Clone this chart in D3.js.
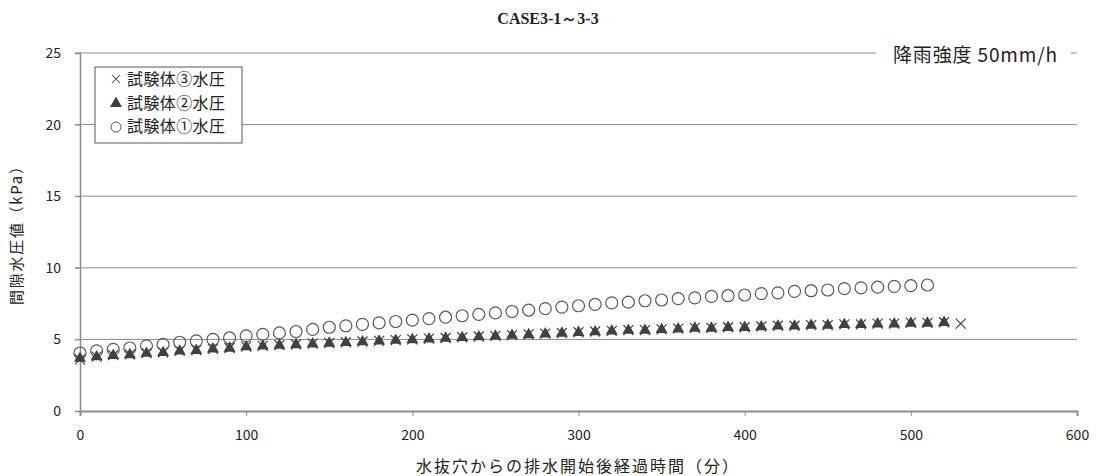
<!DOCTYPE html>
<html>
<head>
<meta charset="utf-8">
<script src="https://cdn.jsdelivr.net/npm/d3@7"></script>
<style>
  body { margin: 0; background: #fff; }
  text { font-family: "Noto Sans CJK JP", "Noto Sans", sans-serif; fill: #222; }
</style>
</head>
<body>
<script>
// elapsed time (min) and pore water pressure (kPa) per specimen
var time1 = d3.range(0, 511, 10);
var time2 = d3.range(0, 521, 10);
var time3 = d3.range(0, 531, 10);

var spec1 = [4.05, 4.2, 4.3, 4.4, 4.55, 4.65, 4.8, 4.9, 5.0, 5.1,
             5.25, 5.35, 5.45, 5.55, 5.7, 5.85, 5.95, 6.05, 6.15, 6.25,
             6.35, 6.45, 6.55, 6.65, 6.75, 6.85, 6.95, 7.05, 7.15, 7.25,
             7.35, 7.45, 7.55, 7.6, 7.7, 7.75, 7.85, 7.9, 8.0, 8.05,
             8.1, 8.2, 8.25, 8.35, 8.4, 8.45, 8.55, 8.6, 8.65, 8.7,
             8.75, 8.8];
var spec2 = [3.75, 3.85, 3.95, 4.0, 4.1, 4.15, 4.25, 4.3, 4.4, 4.45,
             4.55, 4.6, 4.65, 4.7, 4.75, 4.8, 4.85, 4.9, 4.95, 5.0,
             5.05, 5.1, 5.15, 5.2, 5.25, 5.3, 5.35, 5.4, 5.45, 5.5,
             5.55, 5.6, 5.65, 5.7, 5.7, 5.75, 5.8, 5.85, 5.85, 5.9,
             5.9, 5.95, 6.0, 6.0, 6.05, 6.05, 6.1, 6.1, 6.15, 6.15,
             6.2, 6.2, 6.25];
var spec3 = [3.6, 3.8, 3.9, 3.95, 4.05, 4.1, 4.2, 4.25, 4.35, 4.4,
             4.5, 4.55, 4.6, 4.65, 4.7, 4.75, 4.8, 4.85, 4.9, 4.95,
             5.0, 5.05, 5.1, 5.15, 5.2, 5.25, 5.3, 5.35, 5.4, 5.45,
             5.5, 5.55, 5.6, 5.65, 5.65, 5.7, 5.75, 5.8, 5.8, 5.85,
             5.85, 5.9, 5.95, 5.95, 6.0, 6.0, 6.05, 6.05, 6.1, 6.1,
             6.15, 6.15, 6.2, 6.1];

var xTicks = [0, 100, 200, 300, 400, 500, 600];
var yTicks = [0, 5, 10, 15, 20, 25];
var legendLabels = ["試験体③水圧", "試験体②水圧", "試験体①水圧"];

var width = 1097, height = 476;
var margin = {top: 53, right: 20, bottom: 65, left: 80};

var svg = d3.select("body").append("svg")
    .attr("width", width)
    .attr("height", height);

var x = d3.scaleLinear().domain([0, 600]).range([margin.left, width - margin.right]);
var y = d3.scaleLinear().domain([0, 25]).range([height - margin.bottom, margin.top]);

// gridlines
svg.append("g")
  .selectAll("line")
  .data(yTicks.slice(1))
  .enter().append("line")
    .attr("x1", x(0) - 5).attr("x2", x(600))
    .attr("y1", d => y(d)).attr("y2", d => y(d))
    .attr("stroke", "#8c8c8c").attr("stroke-width", 1);

// y axis
var yAxis = svg.append("g")
    .attr("transform", "translate(" + x(0) + ",0)")
    .call(d3.axisLeft(y).tickValues(yTicks).tickSize(5).tickPadding(14));
yAxis.select(".domain").attr("stroke", "#8c8c8c").attr("stroke-width", 1.5);
yAxis.selectAll(".tick line").attr("stroke", "#8c8c8c");
yAxis.selectAll("text").style("font-size", "14px").attr("fill", "#222");

// x axis
var xAxis = svg.append("g")
    .attr("transform", "translate(0," + y(0) + ")")
    .call(d3.axisBottom(x).tickValues(xTicks).tickSize(5).tickPadding(14));
xAxis.select(".domain").attr("stroke", "#8c8c8c").attr("stroke-width", 2);
xAxis.selectAll(".tick line").attr("stroke", "#8c8c8c");
xAxis.selectAll("text").style("font-size", "14px").attr("fill", "#222");

// title
svg.append("text")
    .attr("x", 548).attr("y", 24)
    .attr("text-anchor", "middle")
    .style("font-family", "'Liberation Serif', 'Times New Roman', serif")
    .style("font-weight", "bold")
    .style("font-size", "16px")
    .text("CASE3-1～3-3");

// rainfall label
svg.append("rect")
    .attr("x", 876).attr("y", 40).attr("width", 195).attr("height", 28)
    .attr("fill", "#fff");
svg.append("text")
    .attr("x", 893).attr("y", 62)
    .attr("textLength", 164).attr("lengthAdjust", "spacing")
    .style("font-size", "19px")
    .text("降雨強度 50mm/h");

// axis titles
svg.append("text")
    .attr("transform", "translate(22," + ((y(0) + y(25)) / 2) + ") rotate(-90)")
    .attr("text-anchor", "middle")
    .attr("textLength", 146).attr("lengthAdjust", "spacing")
    .style("font-size", "15px")
    .text("間隙水圧値（kPa）");
svg.append("text")
    .attr("x", 578).attr("y", 472)
    .attr("text-anchor", "middle")
    .style("font-size", "16px")
    .style("letter-spacing", "2px")
    .text("水抜穴からの排水開始後経過時間（分）");

// markers
var crossPath = "M-5,-5L5,5M-5,5L5,-5";
var triPath = d3.symbol().type(d3.symbolTriangle).size(62)();

svg.append("g").selectAll("path")
  .data(time3.map((t, i) => [t, spec3[i]]))
  .enter().append("path")
    .attr("transform", d => "translate(" + x(d[0]) + "," + y(d[1]) + ")")
    .attr("d", crossPath)
    .attr("stroke", "#404040").attr("stroke-width", 1.2).attr("fill", "none");

svg.append("g").selectAll("circle")
  .data(time1.map((t, i) => [t, spec1[i]]))
  .enter().append("circle")
    .attr("cx", d => x(d[0])).attr("cy", d => y(d[1]))
    .attr("r", 6)
    .attr("stroke", "#595959").attr("stroke-width", 1.2).attr("fill", "none");

svg.append("g").selectAll("path")
  .data(time2.map((t, i) => [t, spec2[i]]))
  .enter().append("path")
    .attr("transform", d => "translate(" + x(d[0]) + "," + (y(d[1]) + 1) + ")")
    .attr("d", triPath)
    .attr("fill", "#404040");

// legend
var lg = svg.append("g").attr("transform", "translate(95,67)");
lg.append("rect")
    .attr("width", 147).attr("height", 76)
    .attr("fill", "#fff").attr("stroke", "#595959").attr("stroke-width", 1);
legendLabels.forEach(function(lbl, i) {
  var cy = 12 + i * 23.5;
  if (i == 0) {
    lg.append("path").attr("transform", "translate(21," + cy + ") scale(0.8)")
      .attr("d", crossPath).attr("stroke", "#404040").attr("stroke-width", 1.3);
  } else if (i == 1) {
    lg.append("path").attr("transform", "translate(21," + (cy + 1) + ")")
      .attr("d", triPath).attr("fill", "#404040");
  } else {
    lg.append("circle").attr("cx", 21).attr("cy", cy + 1).attr("r", 5)
      .attr("stroke", "#595959").attr("fill", "none");
  }
  lg.append("text").attr("x", 32).attr("y", cy + 6)
    .attr("textLength", 98).attr("lengthAdjust", "spacing")
    .style("font-size", "16px")
    .text(lbl);
});
</script>
</body>
</html>
